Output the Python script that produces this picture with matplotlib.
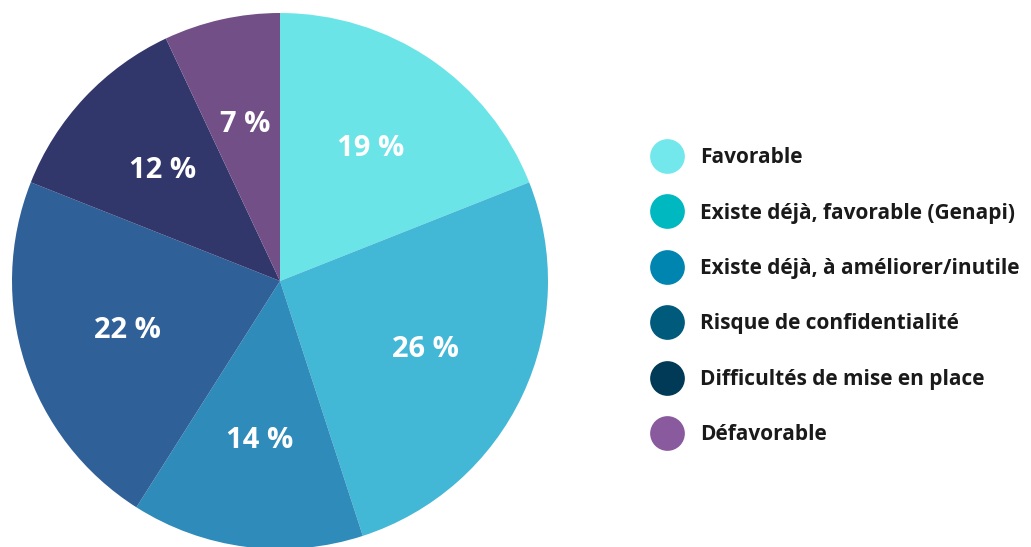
import matplotlib.pyplot as plt
from matplotlib.lines import Line2D

plt.rcParams['font.family'] = ['Open Sans', 'DejaVu Sans']

labels = ["Favorable",
          "Existe déjà, favorable (Genapi)",
          "Existe déjà, à améliorer/inutile",
          "Risque de confidentialité",
          "Difficultés de mise en place",
          "Défavorable"]
values = [19, 26, 14, 22, 12, 7]
slice_colors = ["#6be4e8", "#43b7d6", "#2e8bba", "#2f6098", "#31366b", "#724f86"]
legend_colors = ["#72e8ec", "#00b8bf", "#0084b0", "#005a7c", "#003a56", "#8a5a9e"]

fig = plt.figure(figsize=(10.31, 5.47), dpi=100)
ax = fig.add_axes([12 / 1031, -2 / 547, 536 / 1031, 536 / 547])

wedges, texts, autotexts = ax.pie(
    values, colors=slice_colors, startangle=90, counterclock=False,
    autopct=lambda p: f"{p:.0f} %", pctdistance=0.6,
    textprops=dict(color="white", fontsize=21, fontweight="bold"))
ax.set_xlim(-1, 1)
ax.set_ylim(-1, 1)
ax.set_aspect("equal")

handles = [Line2D([], [], marker="o", linestyle="none", markersize=25,
                  markerfacecolor=c, markeredgecolor="none") for c in legend_colors]
leg = fig.legend(handles, labels, loc="upper left", bbox_to_anchor=(643 / 1031, 1 - 139 / 547),
                 frameon=False, fontsize=15, labelspacing=1.65, handletextpad=0.85,
                 handlelength=1.5, borderaxespad=0)
for t in leg.get_texts():
    t.set_fontweight("bold")
    t.set_color("#1a1a1a")

fig.savefig("out.png", dpi=100)
